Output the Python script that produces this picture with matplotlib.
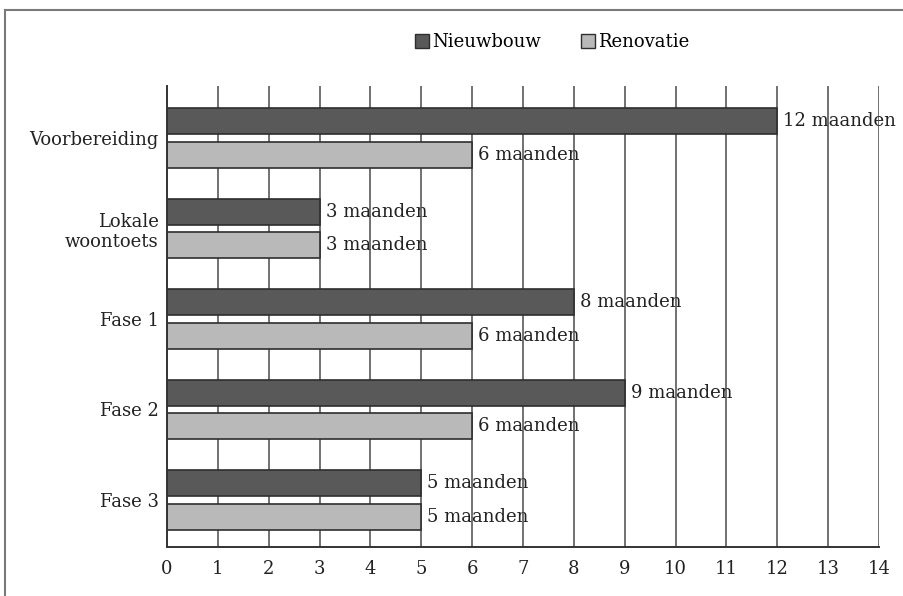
import matplotlib.pyplot as plt
import numpy as np
from matplotlib.patches import Patch

# Duration per phase, in months
phases = ["Voorbereiding", "Lokale\nwoontoets", "Fase 1", "Fase 2", "Fase 3"]
nieuwbouw = [12, 3, 8, 9, 5]
renovatie = [6, 3, 6, 6, 5]
series_names = ["Nieuwbouw", "Renovatie"]
x_ticks = list(range(0, 15))

DARK = "#595959"
LIGHT = "#b9b9b9"
EDGE = "#2e2e2e"
GRID = "#4a4a4a"
FS = 13

plt.rcParams["font.family"] = ["DejaVu Serif"]

fig = plt.figure(figsize=(9.04, 5.96), dpi=100)
ax = fig.add_axes([167 / 904, 1 - 547 / 596, (879 - 167) / 904, (547 - 86) / 596])

y = np.arange(len(phases))
h = 0.29
off = 0.185

ax.barh(y - off, nieuwbouw, height=h, color=DARK, edgecolor=EDGE, lw=1.2, zorder=3)
ax.barh(y + off, renovatie, height=h, color=LIGHT, edgecolor=EDGE, lw=1.2, zorder=3)

# value labels sit under the grid lines
for yy, v in zip(y - off, nieuwbouw):
    ax.text(v + 0.12, yy, f"{v} maanden", va="center", ha="left", fontsize=FS,
            color="#222222", zorder=1)
for yy, v in zip(y + off, renovatie):
    ax.text(v + 0.12, yy, f"{v} maanden", va="center", ha="left", fontsize=FS,
            color="#222222", zorder=1)

for xv in x_ticks[1:]:
    ax.axvline(xv, color=GRID, lw=1.1, zorder=2)

ax.set_xlim(0, 14)
ax.set_ylim(4.52, -0.575)
ax.set_xticks(x_ticks)
ax.set_yticks(y)
ax.set_yticklabels(phases, fontsize=FS, color="#222222")
ax.tick_params(axis="both", length=0, pad=6)
ax.tick_params(axis="x", labelsize=FS, labelcolor="#222222", pad=9)
for s in ["top", "right"]:
    ax.spines[s].set_visible(False)
for s in ["left", "bottom"]:
    ax.spines[s].set_color("#333333")
    ax.spines[s].set_linewidth(1.4)
    ax.spines[s].set_zorder(4)

handles = [Patch(facecolor=DARK, edgecolor=EDGE), Patch(facecolor=LIGHT, edgecolor=EDGE)]
fig.legend(handles, series_names, loc="center", bbox_to_anchor=(552 / 904, 1 - 42 / 596),
           ncol=2, frameon=False, fontsize=FS, handlelength=0.8, handleheight=0.8,
           handletextpad=0.15, columnspacing=2.2)

# outer frame, only its top and left edges fall inside the image
fig.add_artist(plt.Line2D([5 / 904, 1], [1 - 10 / 596, 1 - 10 / 596], color="#7a7a7a", lw=1.5))
fig.add_artist(plt.Line2D([5 / 904, 5 / 904], [0, 1 - 10 / 596], color="#7a7a7a", lw=1.5))

fig.savefig("out.png", dpi=100)
